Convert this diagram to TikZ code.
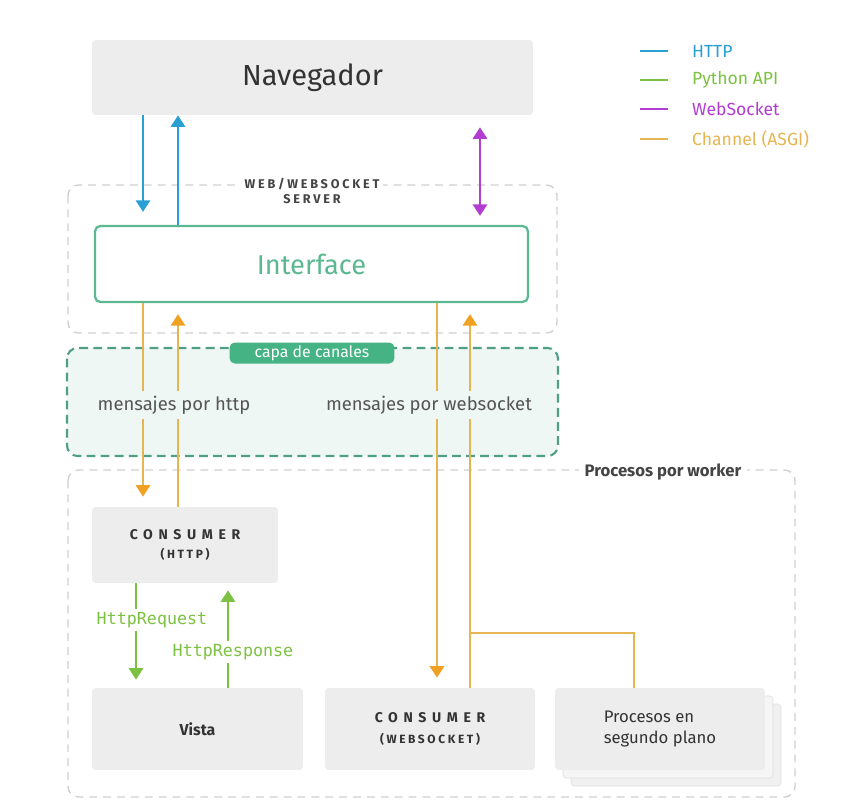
\documentclass[tikz,border=0pt]{standalone}
\usepackage{fontspec}
\setmainfont{Fira Sans}
\newfontfamily\spacedfont[LetterSpace=40]{Fira Sans}
\newfontfamily\halfspacedfont[LetterSpace=22]{Fira Sans}
\newfontfamily\codefont{DejaVu Sans Mono}
\newcommand\capbigfont{\spacedfont\bfseries\fontsize{8}{10}\selectfont}
\newcommand\capsmallfont{\halfspacedfont\bfseries\fontsize{6.8}{8}\selectfont}
\newcommand\serverfont{\halfspacedfont\bfseries\fontsize{7.2}{8.2}\selectfont}
\usetikzlibrary{arrows.meta}

\definecolor{boxgray}{HTML}{EDEDED}
\definecolor{dashgray}{HTML}{CFCFCF}
\definecolor{httpblue}{HTML}{2A9FD3}
\definecolor{pygreen}{HTML}{7CC142}
\definecolor{wsviolet}{HTML}{B23DD0}
\definecolor{chanorange}{HTML}{E6B552}
\definecolor{orangehead}{HTML}{F0A023}
\definecolor{ifgreen}{HTML}{5BB890}
\definecolor{chanfill}{HTML}{EEF7F3}
\definecolor{chandash}{HTML}{4E9E88}
\definecolor{capagreen}{HTML}{45B383}
\definecolor{darktext}{HTML}{333333}
\definecolor{labelgray}{HTML}{444444}
\definecolor{msggray}{HTML}{555555}

\tikzset{
  graybox/.style={fill=boxgray, rounded corners=2pt, inner sep=0pt, text=darktext},
  dashbox/.style={draw=dashgray, line width=0.8pt, dash pattern=on 4.5pt off 3.4pt, rounded corners=6pt},
  flow/.style={line width=1.5pt, -{Triangle[width=8pt,length=6.5pt]}},
  chanflow/.style={chanorange, line width=1.5pt, -{Triangle[width=8pt,length=6.5pt,color=orangehead]}},
  msg/.style={fill=chanfill, text=msggray, inner sep=3pt, font=\fontsize{10.5}{12}\selectfont},
  codelbl/.style={fill=white, text=pygreen, inner sep=2pt, font=\codefont\fontsize{9.5}{11}\selectfont},
}

\begin{document}
\begin{tikzpicture}[x=0.02cm, y=-0.02cm]
    \useasboundingbox (0,0) rectangle (850,802);

    % legend
    \foreach \y/\c/\t [count=\i] in {51/httpblue/HTTP, 80/pygreen/Python API, 109/wsviolet/WebSocket, 139/chanorange/Channel (ASGI)} {
        \draw[\c, line width=1.5pt] (640,\y) -- (668,\y);
        \node[anchor=west, text=\c, font=\fontsize{10}{12}\selectfont] (leg\i) at (686,\y) {\t};
    }

    % containers
    \draw[dashbox] (68,185) rectangle (557,333);
    \fill[chanfill, rounded corners=6pt] (67,348) rectangle (558,456);
    \draw[chandash, line width=1.2pt, dash pattern=on 5pt off 3pt, rounded corners=6pt] (67,348) rectangle (558,456);
    \draw[dashbox] (68,470) rectangle (795,797);

    \node[fill=white, align=center, text=labelgray, inner sep=2pt, font=\serverfont] (srvlbl) at (312,191) {WEB/WEBSOCKET\\SERVER};
    \node[fill=capagreen, text=white, rounded corners=3pt, minimum width=3.3cm, minimum height=0.42cm, inner sep=0pt, font=\fontsize{9}{10}\selectfont] (capa) at (312,353) {capa de canales};
    \node[fill=white, text=labelgray, inner sep=3pt, font=\bfseries\fontsize{9.5}{11}\selectfont] (wlbl) at (663,472) {Procesos por worker};

    % boxes
    \node[graybox, minimum width=8.82cm, minimum height=1.5cm, font=\fontsize{16.5}{18}\selectfont] (nav) at (312.5,77.5) {Navegador};
    \node[draw=ifgreen, line width=1.3pt, fill=white, rounded corners=3pt, minimum width=8.66cm, minimum height=1.52cm, text=ifgreen, font=\fontsize{15.5}{18}\selectfont] (iface) at (311.5,264) {Interface};

    \node[graybox, minimum width=3.72cm, minimum height=1.52cm, align=center] (chttp) at (185,545) {{\capbigfont CONSUMER}\\[-1pt]{\capsmallfont (HTTP)}};
    \node[graybox, minimum width=4.22cm, minimum height=1.64cm, font=\bfseries\fontsize{9}{11}\selectfont] (vista) at (197.5,729) {Vista};
    \node[graybox, minimum width=4.2cm, minimum height=1.64cm, align=center] (cws) at (430,729) {{\capbigfont CONSUMER}\\[0pt]{\capsmallfont (WEBSOCKET)}};

    \draw[fill=white!94!black, draw=black!12, rounded corners=2pt] (571,704) rectangle (781,786);
    \draw[fill=white!96!black, draw=black!12, rounded corners=2pt] (563,696) rectangle (773,778);
    \node[graybox, minimum width=4.2cm, minimum height=1.64cm, align=left, font=\fontsize{9.5}{12}\selectfont] (bg) at (660,729) {Procesos en\\segundo plano};

    % navegador <-> interface
    \draw[flow, httpblue, shorten >=0.26cm] (nav.south -| 143,0) -- (iface.north -| 143,0);
    \draw[flow, httpblue] (iface.north -| 178,0) -- (nav.south -| 178,0);
    \draw[wsviolet, line width=1.5pt, {Triangle[width=8pt,length=6.5pt]}-{Triangle[width=8pt,length=6.5pt]}, shorten <=0.24cm, shorten >=0.18cm] (nav.south -| 480,0) -- (iface.north -| 480,0);

    % channel layer
    \draw[chanflow, shorten >=0.2cm] (iface.south -| 143,0) -- (chttp.north -| 143,0);
    \draw[chanflow, shorten >=0.22cm] (chttp.north -| 178,0) -- (iface.south -| 178,0);
    \draw[chanflow, shorten >=0.2cm] (iface.south -| 437,0) -- (cws.north -| 437,0);
    \draw[chanflow, shorten >=0.22cm] (cws.north -| 470,0) -- (iface.south -| 470,0);
    \coordinate (branch) at (470,633);
    \draw[chanorange, line width=1.5pt] (bg.north -| 634,0) |- (branch);

    \node[msg] (mhttp) at (174,405) {mensajes por http};
    \node[msg] (mws) at (429,405) {mensajes por websocket};

    % consumer <-> vista
    \draw[flow, pygreen, shorten >=0.16cm] (chttp.south -| 136,0) -- (vista.north -| 136,0);
    \draw[flow, pygreen, shorten >=0.14cm] (vista.north -| 228,0) -- (chttp.south -| 228,0);
    \node[codelbl] (hreq) at (152,620) {HttpRequest};
    \node[codelbl] (hresp) at (233,652) {HttpResponse};
\end{tikzpicture}
\end{document}
